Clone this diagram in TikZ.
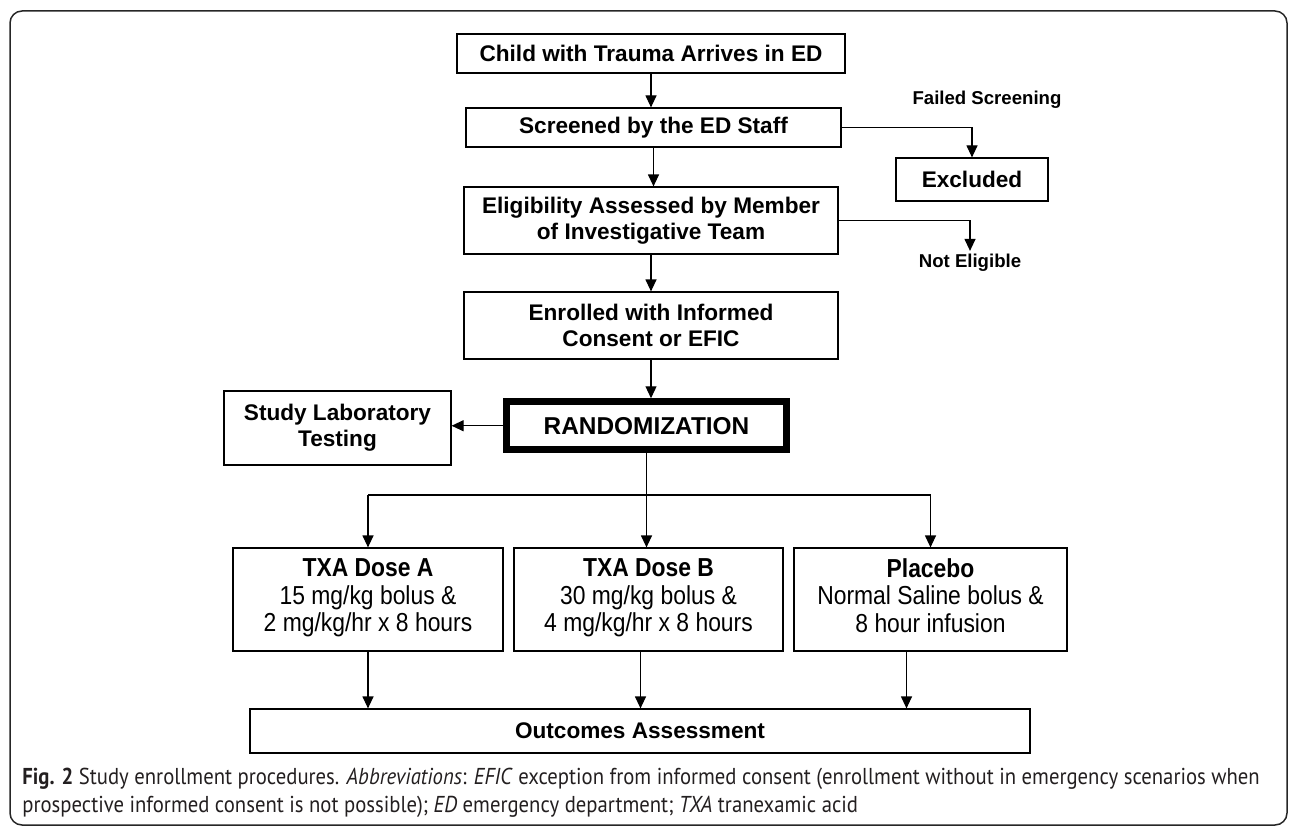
\documentclass[tikz,border=0pt]{standalone}
\usepackage{fontspec}
\setmainfont{Liberation Sans}
\newfontfamily\narrowsf[FakeStretch=0.88]{Liberation Sans}
\newfontfamily\capfont[FakeStretch=0.9]{PT Sans}
\usepackage{tikz}
\usetikzlibrary{positioning,calc,arrows.meta}
\definecolor{captext}{HTML}{231F20}

\begin{document}
\begin{tikzpicture}[
		x=0.5pt, y=-0.5pt,
		box/.style={draw=black, line width=0.6pt, inner sep=0pt, align=center,
			font=\fontsize{11.3}{13}\selectfont\bfseries},
		dosebox/.style={draw=black, line width=0.6pt, inner sep=0pt, align=center,
			minimum height=51.5pt, font=\narrowsf\fontsize{13}{13.75}\selectfont},
		side/.style={inner sep=0pt, font=\fontsize{9.3}{11}\selectfont\bfseries},
		arr/.style={-{Triangle[length=6pt,width=5.5pt]}, line width=0.6pt}
		]
		\useasboundingbox (0,0) rectangle (1290,829);
		\draw[line width=0.75pt, rounded corners=6pt, black!85] (10,11) rectangle (1287,825);
		
		% main column
		\node[box, minimum width=194pt, minimum height=19.5pt] (arrive) at (651,53.5) {Child with Trauma Arrives in ED};
		\node[box, minimum width=187.5pt, minimum height=19.5pt] (screen) at (653.5,127.5) {Screened by the ED Staff};
		\node[box, minimum width=187pt, minimum height=33.5pt] (elig) at (651,220.5) {Eligibility Assessed by Member\\of Investigative Team};
		\node[box, minimum width=187pt, minimum height=33.5pt] (enrol) at (651,325.5) {Enrolled with Informed\\Consent or EFIC};
		\node[box, line width=3.5pt, minimum width=140pt, minimum height=24pt,
			font=\fontsize{12.2}{14}\selectfont\bfseries] (rand) at (646.5,425.75) {RANDOMIZATION};
		
		% side boxes and labels
		\node[box, minimum width=113.5pt, minimum height=37pt] (lab) at (337.5,428) {Study Laboratory\\Testing};
		\node[box, minimum width=76pt, minimum height=21.5pt] (excl) at (972,179.5) {Excluded};
		\node[side] (failed) at (987,100) {Failed Screening};
		\node[side, inner ysep=1.5pt] (noelig) at (970,263) {Not Eligible};
		
		% study arms
		\node[dosebox, minimum width=135pt] (doseA) at (368,599.5) {\textbf{TXA Dose A}\\15 mg/kg bolus \&\\2 mg/kg/hr x 8 hours\strut};
		\node[dosebox, minimum width=134.5pt] (doseB) at (648.5,599.5) {\textbf{TXA Dose B}\\30 mg/kg bolus \&\\4 mg/kg/hr x 8 hours\strut};
		\node[dosebox, minimum width=136.5pt] (doseC) at (930.5,599.5) {\textbf{Placebo}\\Normal Saline bolus \&\\8 hour infusion\strut};
		\node[box, minimum width=390pt, minimum height=22pt] (outc) at (640,731) {Outcomes Assessment};
		
		% arrows
		\draw[arr] (arrive.south) -- (arrive.south |- screen.north);
		\draw[arr] (screen.east) -| (excl.north);
		\draw[arr] (screen.south) -- (screen.south |- elig.north);
		\draw[arr] (elig.east) -| (noelig.north);
		\draw[arr] (elig.south) -- (enrol.north);
		\draw[arr] (enrol.south) -- (enrol.south |- rand.north);
		\draw[arr] (rand.west) -- (rand.west -| lab.east);
		
		\coordinate (split) at (646.5,495);
		\draw[line width=0.6pt] (rand.south) -- (split);
		\draw[line width=0.6pt] (split -| doseA.north) -- (split -| doseC.north);
		\draw[arr] (split -| doseA.north) -- (doseA.north);
		\draw[arr] (split) -- (split |- doseB.north);
		\draw[arr] (split -| doseC.north) -- (doseC.north);
		
		\draw[arr] (doseA.south) -- (doseA.south |- outc.north);
		\draw[arr] ([xshift=-4pt]doseB.south) -- ([xshift=-4pt]doseB.south |- outc.north);
		\draw[arr] ([xshift=-12pt]doseC.south) -- ([xshift=-12pt]doseC.south |- outc.north);
		
		% caption
		\node[anchor=north west, inner sep=0pt, align=left, text=captext,
			font=\capfont\fontsize{11.5}{14}\selectfont] (cap) at (22,768)
		{\textbf{Fig. 2} Study enrollment procedures. \textit{Abbreviations}: \textit{EFIC} exception from informed consent (enrollment without in emergency scenarios when\\
			prospective informed consent is not possible); \textit{ED} emergency department; \textit{TXA} tranexamic acid};
\end{tikzpicture}
\end{document}
